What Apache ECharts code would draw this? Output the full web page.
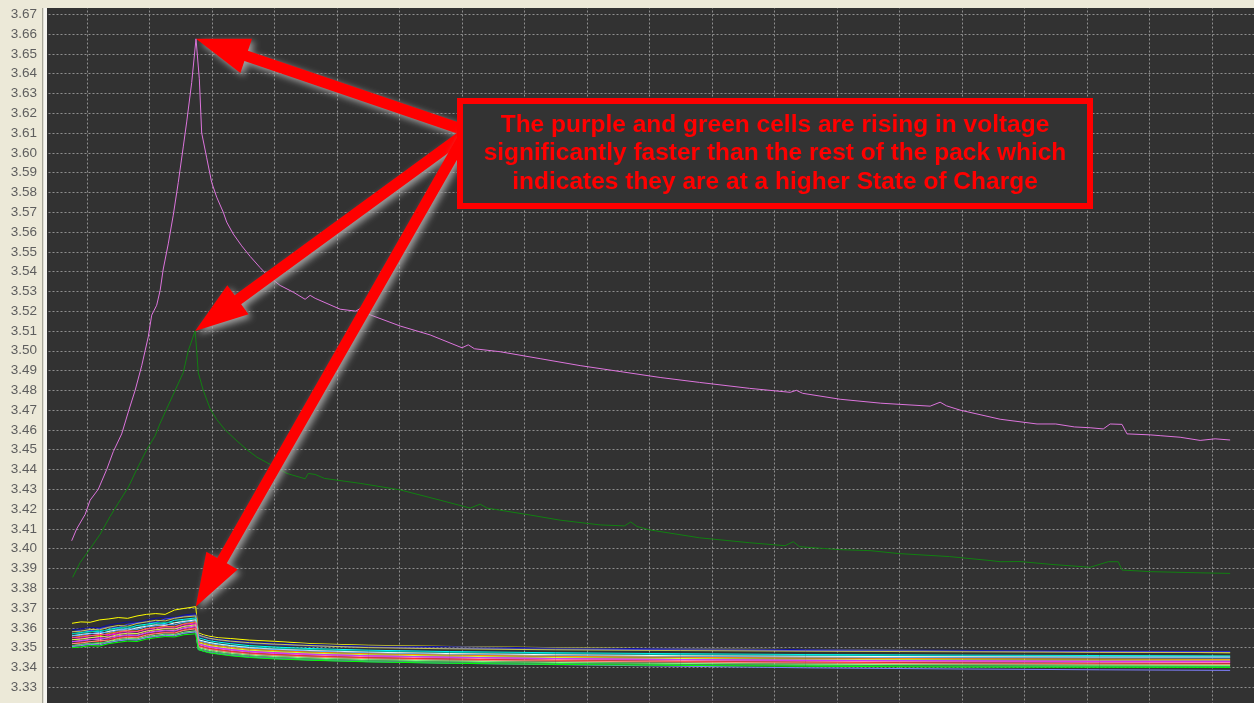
<!DOCTYPE html>
<html>
<head>
<meta charset="utf-8">
<script src="https://cdn.jsdelivr.net/npm/echarts@6/dist/echarts.min.js"></script>
<style>
  html, body { margin: 0; padding: 0; background: #ECE9D8; }
  #chart { width: 1254px; height: 703px; }
</style>
</head>
<body>
<div id="chart"></div>
<script>
// Elapsed time in log units (10 units per vertical grid division); voltages in volts.

// Two fast-rising cells: [time, volts]
const purpleCell = [
  [7.55,3.4040],[8.35,3.4100],[9.7,3.4173],[10.5,3.4245],[11.8,3.4300],[13.15,3.4400],[14.2,3.4490],
  [15.55,3.4580],[16.6,3.4690],[17.7,3.4800],[18.75,3.4924],[19.8,3.5070],[20.35,3.5180],[21.15,3.5230],
  [21.7,3.5305],[22.2,3.5413],[23.0,3.5540],[23.8,3.5685],[24.6,3.5850],[25.4,3.6030],[25.95,3.6156],
  [26.75,3.6355],[27.44,3.6576],
  [27.97,3.6374],[28.35,3.6100],[29.15,3.5975],[29.95,3.5850],[30.75,3.5776],[31.8,3.5700],[32.35,3.5650],
  [33.4,3.5590],[34.75,3.5530],[36.1,3.5477],[37.7,3.5420],[39.0,3.5377],[40.9,3.5330],[43.0,3.5296],
  [44.9,3.5260],[45.7,3.5280],[46.5,3.5265],[50.5,3.5210],[53.0,3.5200],[53.8,3.5215],[55.0,3.5185],
  [60.1,3.5125],[64.9,3.5080],[70.0,3.5015],[71.0,3.5030],[72.0,3.5010],[76.1,3.4995],[82.5,3.4960],
  [88.9,3.4925],[95.3,3.4895],[101.7,3.4865],[108.0,3.4840],[116.0,3.4810],[122.5,3.4790],[123.5,3.4800],
  [124.5,3.4785],[130.5,3.4755],[137.0,3.4735],[144.9,3.4720],[146.5,3.4740],[147.5,3.4722],[149.7,3.4700],
  [156.1,3.4654],[162.0,3.4630],[165.0,3.4630],[168.0,3.4615],[170.5,3.4611],[172.6,3.4605],[173.7,3.4630],
  [175.6,3.4628],[176.4,3.4580],[180.1,3.4575],[181.7,3.4571],[184.9,3.4563],[188.1,3.4547],[190.5,3.4555],
  [192.9,3.4549]
];

const greenCell = [
  [7.7,3.3855],[8.9,3.3930],[10.5,3.4000],[12.1,3.4073],[13.7,3.4163],[15.0,3.4230],[16.6,3.4310],
  [17.95,3.4400],[19.55,3.4500],[20.9,3.4570],[21.7,3.4634],[22.75,3.4707],[24.1,3.4800],[25.4,3.4890],
  [26.2,3.5000],[27.3,3.5100],
  [27.55,3.5000],[27.8,3.4890],[28.6,3.4800],[29.7,3.4707],[30.75,3.4653],[32.1,3.4600],[34.0,3.4544],
  [35.6,3.4500],[37.2,3.4462],[39.3,3.4426],[42.0,3.4380],[44.9,3.4353],[45.4,3.4380],[46.5,3.4375],
  [48.0,3.4355],[53.7,3.4330],[60.1,3.4297],[66.5,3.4245],[71.3,3.4205],[72.9,3.4225],[74.0,3.4205],
  [76.0,3.4195],[80.9,3.4170],[85.7,3.4144],[92.1,3.4120],[96.0,3.4115],[97.0,3.4135],[98.0,3.4112],
  [100.0,3.4095],[108.0,3.4055],[116.0,3.4030],[121.7,3.4015],[123.0,3.4035],[124.0,3.4010],[130.5,3.3995],
  [135.3,3.3990],[140.0,3.3975],[148.0,3.3960],[154.5,3.3940],[156.1,3.3934],[159.3,3.3935],[164.1,3.3921],
  [170.5,3.3906],[173.4,3.3934],[175.0,3.3934],[175.6,3.3892],[180.1,3.3884],[188.1,3.3878],[192.9,3.3875]
];

// Remaining cells of the pack share one time base
const packTime = [
  7.6, 9, 10.5, 12, 13.5, 15, 16.5, 18, 19.5, 21, 22.5, 24, 25.5, 27.4,
  27.8, 28.6, 29.5, 31, 33, 36, 40, 46, 55, 68, 85, 105, 125, 150, 172, 192.9
];

const packColors = [
  '#ffff00', '#1010a0', '#3c3cff', '#c8c850', '#00ffff', '#00c0a0', '#ffffff', '#60b0ff', '#ff8c00', '#ff40a0',
  '#ff00ff', '#d0ff40', '#ff80c0', '#c040ff', '#ff3030', '#ff9080', '#80ff80', '#40c060', '#8080ff', '#00ff00'
];

const packVolts = [
  [3.3623,3.3630,3.3628,3.3640,3.3645,3.3652,3.3648,3.3660,3.3668,3.3672,3.3668,3.3690,3.3698,3.3707,
   3.3575,3.3565,3.3558,3.3550,3.3546,3.3538,3.3532,3.3520,3.3512,3.3506,3.3500,3.3494,3.3490,3.3484,3.3479,3.3474],
  [3.3590,3.3596,3.3602,3.3600,3.3615,3.3622,3.3630,3.3628,3.3640,3.3648,3.3655,3.3652,3.3665,3.3672,
   3.3568,3.3560,3.3552,3.3545,3.3538,3.3530,3.3524,3.3516,3.3508,3.3505,3.3498,3.3494,3.3490,3.3486,3.3482,3.3480],
  [3.3580,3.3588,3.3585,3.3596,3.3605,3.3602,3.3618,3.3625,3.3630,3.3628,3.3645,3.3650,3.3658,3.3665,
   3.3560,3.3553,3.3545,3.3538,3.3530,3.3522,3.3515,3.3508,3.3502,3.3496,3.3492,3.3488,3.3485,3.3482,3.3480,3.3478],
  [3.3580,3.3583,3.3592,3.3590,3.3603,3.3612,3.3608,3.3622,3.3630,3.3638,3.3635,3.3648,3.3655,3.3660,
   3.3565,3.3556,3.3548,3.3540,3.3533,3.3525,3.3518,3.3510,3.3500,3.3494,3.3489,3.3485,3.3482,3.3479,3.3476,3.3475],
  [3.3570,3.3576,3.3582,3.3580,3.3592,3.3600,3.3598,3.3612,3.3618,3.3625,3.3622,3.3638,3.3643,3.3650,
   3.3550,3.3543,3.3535,3.3528,3.3520,3.3510,3.3503,3.3495,3.3487,3.3480,3.3474,3.3469,3.3465,3.3462,3.3460,3.3458],
  [3.3570,3.3573,3.3580,3.3588,3.3585,3.3597,3.3605,3.3602,3.3615,3.3620,3.3628,3.3626,3.3638,3.3645,
   3.3540,3.3534,3.3527,3.3520,3.3512,3.3504,3.3497,3.3490,3.3482,3.3476,3.3470,3.3465,3.3461,3.3458,3.3456,3.3455],
  [3.3560,3.3566,3.3572,3.3570,3.3582,3.3590,3.3588,3.3600,3.3608,3.3615,3.3612,3.3625,3.3632,3.3640,
   3.3540,3.3533,3.3526,3.3518,3.3510,3.3500,3.3492,3.3485,3.3477,3.3470,3.3464,3.3459,3.3456,3.3454,3.3452,3.3452],
  [3.3560,3.3563,3.3570,3.3577,3.3575,3.3588,3.3595,3.3592,3.3605,3.3610,3.3618,3.3615,3.3628,3.3635,
   3.3535,3.3528,3.3521,3.3514,3.3506,3.3497,3.3490,3.3482,3.3473,3.3465,3.3459,3.3454,3.3451,3.3449,3.3448,3.3448],
  [3.3550,3.3557,3.3562,3.3560,3.3572,3.3580,3.3585,3.3583,3.3596,3.3602,3.3608,3.3606,3.3620,3.3630,
   3.3530,3.3523,3.3516,3.3509,3.3501,3.3492,3.3485,3.3477,3.3469,3.3462,3.3456,3.3451,3.3447,3.3444,3.3442,3.3440],
  [3.3550,3.3553,3.3560,3.3567,3.3565,3.3577,3.3583,3.3581,3.3593,3.3600,3.3605,3.3603,3.3618,3.3625,
   3.3520,3.3514,3.3507,3.3500,3.3492,3.3483,3.3476,3.3468,3.3459,3.3451,3.3444,3.3439,3.3435,3.3432,3.3429,3.3428],
  [3.3540,3.3546,3.3552,3.3550,3.3562,3.3570,3.3575,3.3572,3.3585,3.3592,3.3598,3.3596,3.3610,3.3620,
   3.3520,3.3513,3.3506,3.3499,3.3491,3.3482,3.3475,3.3468,3.3459,3.3452,3.3446,3.3440,3.3436,3.3433,3.3430,3.3428],
  [3.3540,3.3543,3.3550,3.3556,3.3554,3.3566,3.3573,3.3571,3.3583,3.3590,3.3596,3.3594,3.3607,3.3615,
   3.3525,3.3518,3.3511,3.3504,3.3496,3.3487,3.3480,3.3472,3.3464,3.3457,3.3450,3.3445,3.3441,3.3438,3.3436,3.3436],
  [3.3530,3.3536,3.3542,3.3540,3.3552,3.3560,3.3565,3.3563,3.3576,3.3583,3.3588,3.3586,3.3600,3.3610,
   3.3515,3.3508,3.3501,3.3494,3.3486,3.3477,3.3470,3.3462,3.3454,3.3447,3.3440,3.3435,3.3431,3.3428,3.3426,3.3425],
  [3.3530,3.3533,3.3540,3.3546,3.3544,3.3556,3.3562,3.3560,3.3573,3.3580,3.3585,3.3583,3.3597,3.3605,
   3.3520,3.3512,3.3504,3.3497,3.3489,3.3480,3.3472,3.3466,3.3459,3.3452,3.3445,3.3440,3.3437,3.3434,3.3432,3.3432],
  [3.3520,3.3526,3.3532,3.3530,3.3542,3.3550,3.3556,3.3554,3.3566,3.3573,3.3578,3.3576,3.3590,3.3600,
   3.3510,3.3503,3.3496,3.3489,3.3481,3.3472,3.3465,3.3457,3.3449,3.3442,3.3435,3.3430,3.3426,3.3422,3.3419,3.3418],
  [3.3520,3.3523,3.3530,3.3536,3.3534,3.3546,3.3552,3.3550,3.3563,3.3570,3.3575,3.3573,3.3587,3.3595,
   3.3505,3.3498,3.3491,3.3484,3.3476,3.3467,3.3460,3.3452,3.3444,3.3437,3.3432,3.3427,3.3422,3.3418,3.3416,3.3415],
  [3.3510,3.3516,3.3522,3.3520,3.3532,3.3540,3.3546,3.3544,3.3556,3.3562,3.3568,3.3566,3.3578,3.3585,
   3.3500,3.3493,3.3486,3.3479,3.3471,3.3462,3.3455,3.3447,3.3439,3.3432,3.3425,3.3420,3.3416,3.3413,3.3411,3.3410],
  [3.3510,3.3513,3.3520,3.3526,3.3524,3.3536,3.3542,3.3540,3.3552,3.3558,3.3564,3.3562,3.3574,3.3580,
   3.3495,3.3488,3.3481,3.3474,3.3466,3.3457,3.3450,3.3442,3.3434,3.3427,3.3420,3.3414,3.3410,3.3406,3.3404,3.3404],
  [3.3505,3.3510,3.3516,3.3514,3.3526,3.3534,3.3540,3.3538,3.3550,3.3556,3.3562,3.3560,3.3572,3.3580,
   3.3490,3.3483,3.3476,3.3469,3.3461,3.3452,3.3445,3.3437,3.3429,3.3421,3.3414,3.3406,3.3398,3.3392,3.3388,3.3385],
  [3.3500,3.3503,3.3510,3.3508,3.3520,3.3527,3.3533,3.3531,3.3543,3.3550,3.3556,3.3554,3.3565,3.3570,
   3.3490,3.3482,3.3474,3.3467,3.3459,3.3450,3.3443,3.3436,3.3428,3.3421,3.3415,3.3410,3.3406,3.3402,3.3401,3.3400]
];

const noteLines = [
  'The purple and green cells are rising in voltage',
  'significantly faster than the rest of the pack which',
  'indicates they are at a higher State of Charge'
];

const PANEL = '#ECE9D8';
const PLOT_BG = '#323232';
const GRID_LINE = { color: '#8e8e8e', type: [2, 2], width: 1 };

const chart = echarts.init(document.getElementById('chart'), null, { renderer: 'canvas' });

const lineSeries = (data, color) => ({
  type: 'line',
  data,
  xAxisIndex: 0,
  yAxisIndex: 0,
  symbol: 'none',
  showSymbol: false,
  silent: true,
  lineStyle: { color, width: 1 },
  emphasis: { disabled: true }
});

const series = packVolts.map((vals, i) =>
  lineSeries(packTime.map((t, j) => [t, vals[j]]), packColors[i])
);
series.push(lineSeries(greenCell, '#118011'));
series.push(lineSeries(purpleCell, '#dc74dc'));

chart.setOption({
  animation: false,
  backgroundColor: PANEL,
  grid: {
    left: 24.5, right: 0, top: -5.5, bottom: -4,
    show: true, backgroundColor: PLOT_BG, borderWidth: 0,
    containLabel: false, outerBoundsMode: 'none'
  },
  xAxis: {
    type: 'value', min: 0, max: 196.72, interval: 10,
    axisLine: { show: false }, axisTick: { show: false }, axisLabel: { show: false },
    splitLine: { show: true, showMinLine: false, showMaxLine: false, lineStyle: GRID_LINE }
  },
  yAxis: [
    {
      type: 'value', min: 3.32, max: 3.68, interval: 0.01,
      axisLine: { show: false }, axisTick: { show: false }, axisLabel: { show: false },
      splitLine: { show: true, showMinLine: false, showMaxLine: false, lineStyle: GRID_LINE }
    },
    {
      type: 'value', min: 3.32, max: 3.68, interval: 0.01,
      position: 'left', offset: -22.5, z: 50,
      axisLine: { show: false }, axisTick: { show: false }, splitLine: { show: false },
      axisLabel: {
        color: '#5e5e5e', fontFamily: '"Liberation Sans", Arial, sans-serif', fontSize: 13.5,
        margin: 10, showMinLabel: false, showMaxLabel: false,
        formatter: (v) => v.toFixed(2)
      }
    }
  ],
  series
});

// Peak of a series of [time, volts] points
const peakOf = (pts) => pts.reduce((a, b) => (b[1] > a[1] ? b : a));
const toPx = (pt) => chart.convertToPixel({ xAxisIndex: 0, yAxisIndex: 0 }, pt);

// Polygon for a thick arrow running from a point under the note box to the tip
function arrowShape(edge, tip, shaft, headLen, headW) {
  let dx = tip[0] - edge[0], dy = tip[1] - edge[1];
  const len = Math.hypot(dx, dy);
  dx /= len; dy /= len;
  const nx = -dy, ny = dx;
  const tail = [edge[0] - dx * 14, edge[1] - dy * 14];
  const base = [tip[0] - dx * headLen, tip[1] - dy * headLen];
  return [
    [tail[0] + nx * shaft / 2, tail[1] + ny * shaft / 2],
    [base[0] + nx * shaft / 2, base[1] + ny * shaft / 2],
    [base[0] + nx * headW / 2, base[1] + ny * headW / 2],
    tip,
    [base[0] - nx * headW / 2, base[1] - ny * headW / 2],
    [base[0] - nx * shaft / 2, base[1] - ny * shaft / 2],
    [tail[0] - nx * shaft / 2, tail[1] - ny * shaft / 2]
  ];
}

const tips = [
  toPx(peakOf(purpleCell)),
  toPx(peakOf(greenCell)),
  toPx(peakOf(packTime.map((t, j) => [t, packVolts[0][j]])))
];
const edges = [[458, 128], [458, 139], [458, 147]];

const arrows = tips.map((tip, i) => ({
  type: 'polygon',
  z: 60,
  silent: true,
  shape: { points: arrowShape(edges[i], tip, 11, 53, 36) },
  style: {
    fill: '#ff0000',
    shadowBlur: 7,
    shadowColor: 'rgba(175,175,175,0.9)',
    shadowOffsetX: 3,
    shadowOffsetY: 3
  }
}));

chart.setOption({
  graphic: [
    // axis label strip and top margin
    { type: 'rect', z: 40, silent: true, shape: { x: 0, y: 0, width: 1254, height: 8 }, style: { fill: PANEL } },
    { type: 'rect', z: 40, silent: true, shape: { x: 0, y: 0, width: 47, height: 703 }, style: { fill: PANEL } },
    { type: 'rect', z: 41, silent: true, shape: { x: 42, y: 8, width: 1.5, height: 695 }, style: { fill: '#a9a79a' } },
    { type: 'rect', z: 41, silent: true, shape: { x: 43.5, y: 8, width: 3.5, height: 695 }, style: { fill: '#f6f5f0' } },
    ...arrows,
    // note box
    {
      type: 'rect', z: 70, silent: true,
      shape: { x: 460, y: 101, width: 630, height: 105 },
      style: { fill: '#333333', stroke: '#ff0000', lineWidth: 6 }
    },
    {
      type: 'text', z: 71, silent: true,
      x: 775, y: 153.5,
      style: {
        text: noteLines.join('\n'),
        fill: '#ff0000',
        font: 'bold 24.5px "Liberation Sans", Arial, sans-serif',
        align: 'center',
        verticalAlign: 'middle',
        lineHeight: 28.3
      }
    }
  ]
});
</script>
</body>
</html>
